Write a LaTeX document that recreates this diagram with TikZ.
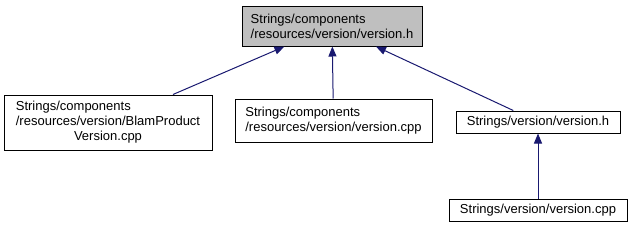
\documentclass[tikz,border=0pt]{standalone}
\usepackage{fontspec}
\setmainfont{Liberation Sans}
\usetikzlibrary{arrows.meta}
\definecolor{midnightblue}{HTML}{191970}
\definecolor{graynode}{HTML}{BFBFBF}
\tikzset{
  file/.style={draw=black, fill=white, line width=1pt, inner sep=0pt, align=left,
    font=\fontsize{13}{15}\selectfont},
  dep/.style={draw=midnightblue, line width=1pt, -{Triangle[length=10pt,width=8pt]}, midnightblue}
}
\begin{document}
\begin{tikzpicture}[x=1pt,y=-1pt]
\useasboundingbox (0,0) rectangle (631,231);
\node[file, fill=graynode, minimum width=180pt, minimum height=40pt] (top) at (332,26)
  {Strings/components\\/resources/version/version.h};

\node[file, minimum width=208pt, minimum height=55pt] (blam) at (108,122.5)
  {\begin{tabular}{@{}l@{}}Strings/components\\/resources/version/BlamProduct\\
   \multicolumn{1}{@{}c@{}}{Version.cpp}\end{tabular}};
\node[file, minimum width=197pt, minimum height=43pt] (vcpp) at (333.5,120.5)
  {Strings/components\\/resources/version/version.cpp};
\node[file, minimum width=164pt, minimum height=22pt] (sverh) at (538,122)
  {Strings/version/version.h};
\node[file, minimum width=178pt, minimum height=22pt] (svercpp) at (538,210)
  {Strings/version/version.cpp};

\draw[dep] (blam) -- (top);
\draw[dep] (vcpp) -- (top);
\draw[dep] (sverh) -- (top);
\draw[dep] (svercpp) -- (sverh);
\end{tikzpicture}
\end{document}
